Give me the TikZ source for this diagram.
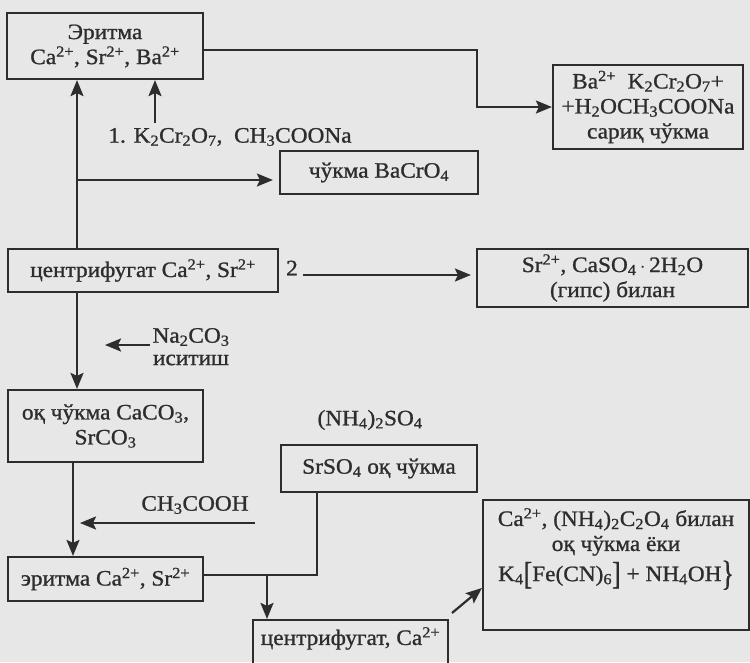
\documentclass[tikz,border=0pt]{standalone}
\usepackage{fontspec}
\setmainfont{Liberation Serif}[FakeStretch=1.06, FakeBold=1]
\usetikzlibrary{arrows.meta}
\definecolor{bg}{RGB}{231,231,231}
\definecolor{ink}{RGB}{45,45,45}
\tikzset{
  box/.style={draw=ink, line width=2.2pt, inner sep=2pt, align=center, text=ink},
  conn/.style={draw=ink, line width=2.2pt},
  arr/.style={conn, -{Stealth[length=16pt,width=13pt,inset=3pt]}},
  lbl/.style={text=ink, inner sep=0pt, align=center},
}
\newcommand{\sub}[1]{\textsubscript{#1}}
\newcommand{\sups}[1]{\textsuperscript{#1}}
\newcommand{\tallbr}[1]{\raisebox{-3pt}{\scalebox{1.1}[1.45]{#1}}}
\begin{document}
\begin{tikzpicture}[x=1pt,y=-1pt, font=\fontsize{22}{25}\selectfont]
\useasboundingbox (0,0) rectangle (750,662);
\fill[bg] (0,0) rectangle (750,662);
\clip (0,0) rectangle (750,662);

% boxes
\node[box, minimum width=196pt, minimum height=66pt] (A) at (105,46)
  {Эритма\\Ca\sups{2+},\ Sr\sups{2+},\ Ba\sups{2+}};
\node[box, minimum width=190pt, minimum height=84pt] (B) at (648,107)
  {Ba\sups{2+}\ \ K\sub{2}Cr\sub{2}O\sub{7}+\\+H\sub{2}OCH\sub{3}COONa\\сариқ чўкма};
\node[box, minimum width=198pt, minimum height=43pt] (C) at (379,172.5)
  {чўкма BaCrO\sub{4}};
\node[box, minimum width=270pt, minimum height=43pt] (D) at (143,270.5)
  {центрифугат Ca\sups{2+}, Sr\sups{2+}};
\node[box, minimum width=271pt, minimum height=58pt] (E) at (612.5,278)
  {Sr\sups{2+},\ CaSO\sub{4}$\,\cdot\,$2H\sub{2}O\\(гипс) билан};
\node[box, minimum width=195pt, minimum height=72pt] (F) at (105.5,426)
  {оқ чўкма CaCO\sub{3},\\SrCO\sub{3}};
\node[box, minimum width=196pt, minimum height=47pt] (G) at (379,468.5)
  {SrSO\sub{4} оқ чўкма};
\node[box, minimum width=195pt, minimum height=44pt] (H) at (105.5,579)
  {эритма Ca\sups{2+}, Sr\sups{2+}};
\node[box, minimum width=195pt, minimum height=84pt] (I) at (350.5,662) {};
\node[lbl, anchor=north] (It) at (350.5,627) {центрифугат, Ca\sups{2+}};
\node[box, minimum width=266pt, minimum height=130pt] (J) at (616,565) {};
\node[lbl, anchor=north] (Jt) at (616,508)
  {Ca\sups{2+}, (NH\sub{4})\sub{2}C\sub{2}O\sub{4} билан\\оқ чўкма ёки\\[4pt]
   K\sub{4}\tallbr{[}Fe(CN)\sub{6}\tallbr{]} + NH\sub{4}OH\raisebox{-4pt}{\scalebox{1.1}[1.6]{\}}}};

% labels
\node[lbl] (k1) at (230,137) {1. K\sub{2}Cr\sub{2}O\sub{7},\ \ CH\sub{3}COONa};
\node[lbl] (two) at (292,268) {2};
\node[lbl] (na) at (191,337) {Na\sub{2}CO\sub{3}};
\node[lbl] (is) at (191,360) {иситиш};
\node[lbl] (ac) at (195,505) {CH\sub{3}COOH};
\node[lbl] (nh) at (370,420) {(NH\sub{4})\sub{2}SO\sub{4}};

% coordinates
\coordinate (kk) at (155,123);
\coordinate (c1) at (77,180);
\coordinate (t2) at (303,275);
\coordinate (n1) at (150,345);
\coordinate (n2) at (105,345);
\coordinate (a1) at (255,523);
\coordinate (a2) at (80,523);
\coordinate (s1) at (267,575);
\coordinate (d1) at (452,613);

% connectors
\draw[arr] (A.east |- 0,50) -- (477,50) |- (B.west);
\draw[arr] (D.north -| 77,0) -- (A.south -| 77,0);
\draw[arr] (kk) -- (A.south -| kk);
\draw[arr, shorten >=6pt] (c1) -- (C.west |- c1);
\draw[arr, shorten >=5pt] (t2) -- (E.west |- t2);
\draw[arr] (D.south -| 77,0) -- (F.north -| 77,0);
\draw[arr] (n1) -- (n2);
\draw[arr] (F.south -| 73,0) -- (H.north -| 73,0);
\draw[arr] (a1) -- (a2);
\draw[conn] (H.east |- 0,575) -| (G.south -| 317,0);
\draw[arr] (s1) -- (I.north -| s1);
\draw[arr] (d1) -- (J.west |- 0,588);
\end{tikzpicture}
\end{document}
